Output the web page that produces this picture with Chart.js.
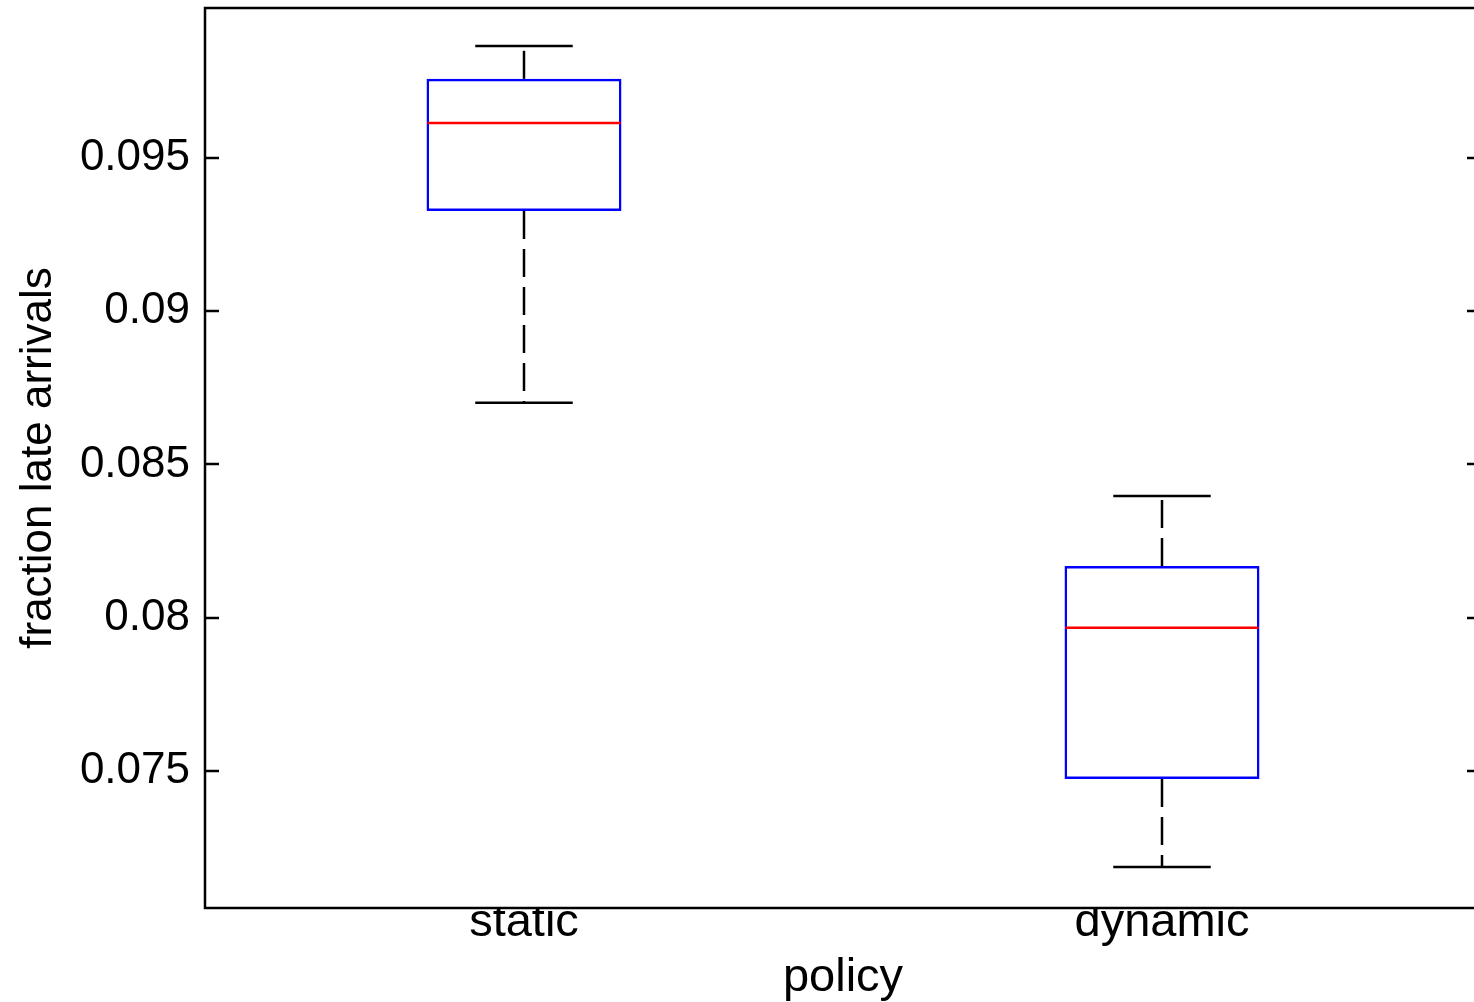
<!DOCTYPE html>
<html>
<head>
<meta charset="utf-8">
<script src="https://cdn.jsdelivr.net/npm/chart.js@4/dist/chart.umd.min.js"></script>
<style>
  html, body { margin: 0; padding: 0; background: #fff; overflow: hidden; }
  #wrap { width: 1490px; height: 1002px; }
</style>
</head>
<body>
<div id="wrap"><canvas id="c" width="1490" height="1002"></canvas></div>
<script>
// ---- data ----
const categories   = ['static', 'dynamic'];
const whiskerLow   = [0.08701, 0.07187];
const q1           = [0.09327, 0.07474];
const medians      = [0.09614, 0.07967];
const q3           = [0.09758, 0.08169];
const whiskerHigh  = [0.09865, 0.08397];
const yTickValues  = [0.075, 0.08, 0.085, 0.09, 0.095];
const yMin = 0.07053, yMax = 0.09989;

const FONT = 'Liberation Sans, Arial, Helvetica, sans-serif';

const boxPlugin = {
  id: 'boxExtras',
  afterDatasetsDraw(chart) {
    const ctx = chart.ctx;
    const ys = chart.scales.y;
    const els = chart.getDatasetMeta(0).data;
    ctx.save();
    els.forEach((el, i) => {
      const x = el.x, w = el.width;
      const yLo = ys.getPixelForValue(whiskerLow[i]);
      const yQ1 = ys.getPixelForValue(q1[i]);
      const yMed = ys.getPixelForValue(medians[i]);
      const yQ3 = ys.getPixelForValue(q3[i]);
      const yHi = ys.getPixelForValue(whiskerHigh[i]);
      // dashed whiskers
      ctx.strokeStyle = '#000';
      ctx.lineWidth = 2.5;
      ctx.setLineDash([28, 10]);
      ctx.beginPath(); ctx.moveTo(x, yQ1); ctx.lineTo(x, yLo); ctx.stroke();
      ctx.beginPath(); ctx.moveTo(x, yQ3); ctx.lineTo(x, yHi); ctx.stroke();
      ctx.setLineDash([]);
      // caps
      const cw = w / 4;
      ctx.beginPath(); ctx.moveTo(x - cw, yLo); ctx.lineTo(x + cw, yLo); ctx.stroke();
      ctx.beginPath(); ctx.moveTo(x - cw, yHi); ctx.lineTo(x + cw, yHi); ctx.stroke();
      // median
      ctx.strokeStyle = '#ff0000';
      ctx.lineWidth = 2.5;
      ctx.beginPath(); ctx.moveTo(x - w / 2 + 1, yMed); ctx.lineTo(x + w / 2 - 1, yMed); ctx.stroke();
    });
    ctx.restore();
  },
  afterDraw(chart) {
    const ctx = chart.ctx;
    const a = chart.chartArea;
    const ys = chart.scales.y;
    ctx.save();
    ctx.strokeStyle = '#000';
    ctx.lineWidth = 2.5;
    ctx.strokeRect(a.left, a.top, a.right - a.left, a.bottom - a.top);
    // inward ticks on left and right spines
    ys.ticks.forEach(t => {
      const y = Math.round(ys.getPixelForValue(t.value));
      ctx.beginPath(); ctx.moveTo(a.left, y); ctx.lineTo(a.left + 14, y); ctx.stroke();
      ctx.beginPath(); ctx.moveTo(a.right, y); ctx.lineTo(a.right - 14, y); ctx.stroke();
    });
    ctx.restore();
  }
};

new Chart(document.getElementById('c'), {
  type: 'bar',
  data: {
    labels: categories,
    datasets: [{
      data: categories.map((_, i) => [q1[i], q3[i]]),
      backgroundColor: 'rgba(0,0,0,0)',
      borderColor: '#0000ff',
      borderWidth: 2.5,
      borderSkipped: false,
      barPercentage: 0.3056,
      categoryPercentage: 1
    }]
  },
  options: {
    responsive: false,
    devicePixelRatio: 1,
    animation: false,
    layout: { padding: { top: 8, left: 0, right: 9, bottom: 0 } },
    plugins: { legend: { display: false }, tooltip: { enabled: false } },
    scales: {
      x: {
        type: 'category',
        offset: true,
        grid: { display: false, drawTicks: false },
        border: { display: false },
        ticks: { color: '#000', font: { family: FONT, size: 47, lineHeight: 1 }, padding: -8, maxRotation: 0 },
        title: { display: true, text: 'policy', color: '#000', font: { family: FONT, size: 47, lineHeight: 1 }, padding: { top: 0, bottom: 0 } },
        afterFit(s) { s.height = 94; s.paddingLeft = 0; s.paddingRight = 0; }
      },
      y: {
        type: 'linear',
        min: yMin,
        max: yMax,
        grid: { display: false, drawTicks: false },
        border: { display: false },
        afterBuildTicks(s) { s.ticks = yTickValues.map(v => ({ value: v })); },
        ticks: {
          color: '#000',
          font: { family: FONT, size: 44, lineHeight: 1 },
          padding: 15,
          callback: v => String(parseFloat(Number(v).toFixed(4)))
        },
        title: { display: true, text: 'fraction late arrivals', color: '#000', font: { family: FONT, size: 44, lineHeight: 1 }, padding: { top: 17, bottom: 0 } },
        afterFit(s) { s.width = 205; s.paddingTop = 0; s.paddingBottom = 0; }
      }
    }
  },
  plugins: [boxPlugin]
});
</script>
</body>
</html>
